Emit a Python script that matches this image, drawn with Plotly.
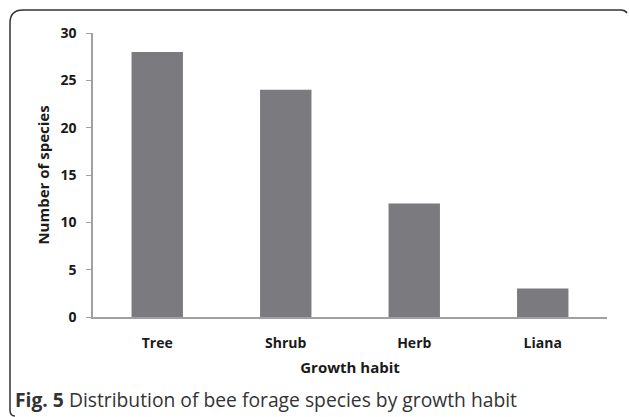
import plotly.graph_objects as go

categories = ["Tree", "Shrub", "Herb", "Liana"]
species_counts = [28, 24, 12, 3]
y_ticks = [0, 5, 10, 15, 20, 25, 30]

W, H = 629, 417
L, R, T, B = 93, 22, 33, 100
PW, PH = W - L - R, H - T - B

def px(x):
    return (x - L) / PW

def py(y):
    return (H - B - y) / PH

fig = go.Figure(go.Bar(x=categories, y=species_counts, width=0.4,
                       marker=dict(color="#7b7b7f", line=dict(width=0))))

frame = (f"M {px(15)},{py(416)} Q {px(10)},{py(416)} {px(10)},{py(410)} "
         f"L {px(10)},{py(23)} Q {px(10)},{py(10)} {px(23)},{py(10)} "
         f"L {px(621)},{py(10)} Q {px(625)},{py(10)} {px(627)},{py(13)}")

fig.update_layout(
    width=W, height=H,
    margin=dict(l=L, r=R, t=T, b=B),
    paper_bgcolor="white", plot_bgcolor="white",
    font=dict(family="Open Sans", color="#1a1a1a"),
    showlegend=False,
    bargap=0.6,
    xaxis=dict(showline=True, linecolor="#a0a0a3", linewidth=1.5, ticks="",
               tickfont=dict(size=14, family="Open Sans", weight="bold"),
               ticklabelstandoff=12,
               title=dict(text="<b>Growth habit</b>", font=dict(size=15), standoff=12)),
    yaxis=dict(range=[0, 30], tickvals=y_ticks, showline=True, linecolor="#a0a0a3",
               linewidth=1.5, ticks="outside", ticklen=5, tickcolor="#a0a0a3",
               showgrid=False, zeroline=False,
               tickfont=dict(size=14, family="Open Sans", weight="bold"),
               ticklabelstandoff=7,
               title=dict(text="<b>Number of species</b>", font=dict(size=15), standoff=7)),
    shapes=[dict(type="path", path=frame, xref="paper", yref="paper", layer="above",
                 line=dict(color="#333333", width=1.5))],
    annotations=[dict(text="<b>Fig. 5</b> Distribution of bee forage species by growth habit",
                      xref="paper", yref="paper", x=px(13), y=py(399),
                      xanchor="left", yanchor="middle", showarrow=False,
                      font=dict(size=19.3, color="#333333", family="Open Sans"))],
)

fig.write_html("out.html", config={"displayModeBar": False},
               post_script="document.body.style.margin='0';document.body.style.overflow='hidden';")
